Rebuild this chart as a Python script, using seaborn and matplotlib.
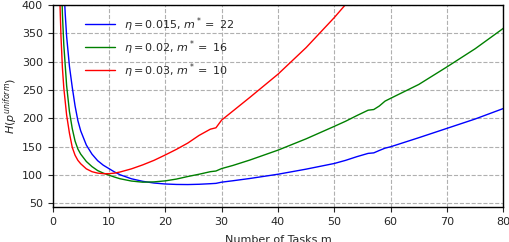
import numpy as np
import pandas as pd
import matplotlib
matplotlib.use("Agg")
import matplotlib.pyplot as plt
import seaborn as sns

# ==========================================
# DATA
# ==========================================
m_blue = [2.0, 2.25, 2.5, 3, 3.5, 4, 4.5, 5, 6, 7, 8, 9, 10, 11, 12, 14, 16, 18, 20,
          22, 24, 26, 28, 29, 30, 32, 35, 40, 45, 50, 52, 54, 56, 57, 58, 59, 60,
          65, 70, 75, 80]
h_blue = [435, 385, 345, 292, 255, 222, 196, 178, 153, 137, 125.5, 117.5, 111.5,
          105.5, 100.5, 93.5, 89, 86, 84.3, 83.5, 83.3, 83.8, 84.8, 85.4, 87.5, 90,
          94, 101.5, 110.5, 120.5, 126, 132.5, 138.3, 139.2, 143.5, 147.5, 150,
          166, 182.5, 199, 217.5]

m_green = [1.5, 1.75, 2, 2.5, 3, 3.5, 4, 4.5, 5, 6, 7, 8, 9, 10, 11, 12, 14, 16, 18,
           20, 22, 24, 26, 28, 29, 30, 32, 35, 40, 45, 50, 52, 54, 56, 57, 58, 59,
           60, 65, 70, 75, 80]
h_green = [480, 385, 330, 258, 212, 182, 160, 146, 137, 124, 115, 108, 103.5, 100,
           96.5, 93.5, 89.5, 87.5, 88, 89.8, 93, 97.5, 101.5, 106, 107.2, 111.5, 117,
           126.5, 144, 164, 186, 195, 205, 214.5, 215.7, 222, 230.5, 235.5, 260,
           291, 323, 359]

m_red = [1.25, 1.5, 1.75, 2, 2.5, 3, 3.5, 4, 4.5, 5, 6, 7, 8, 9, 10, 11, 12, 14, 16,
         18, 20, 22, 24, 26, 28, 29, 30, 32, 35, 40, 45, 50, 52, 54]
h_red = [425, 345, 290, 254, 206, 174, 149, 135, 126, 120, 111, 106, 103.5, 102.5,
         102.5, 103.5, 105.5, 111, 118, 126, 135.5, 145.5, 156.5, 170, 181, 183.5,
         197, 213, 237, 278, 325, 378, 401, 425]

labels = [r'$\eta=0.015$, $m^*=$ 22', r'$\eta=0.02$, $m^*=$ 16', r'$\eta=0.03$, $m^*=$ 10']
colors = ['blue', 'green', 'red']

df = pd.concat([
    pd.DataFrame({'m': m_blue, 'H': h_blue, 'series': labels[0]}),
    pd.DataFrame({'m': m_green, 'H': h_green, 'series': labels[1]}),
    pd.DataFrame({'m': m_red, 'H': h_red, 'series': labels[2]}),
], ignore_index=True)

# ==========================================
# PLOT
# ==========================================
sns.set_style("white")
plt.rcParams['font.family'] = ['DejaVu Sans']

fig = plt.figure(figsize=(5.1, 2.42), dpi=100)
ax = fig.add_axes([0.103, 0.143, 0.884, 0.836])

sns.lineplot(data=df, x='m', y='H', hue='series', hue_order=labels,
             palette=colors, estimator=None, sort=True, linewidth=1, ax=ax)

ax.set_xlim(0, 80)
ax.set_ylim(43, 400)
ax.set_xticks(np.arange(0, 81, 10))
ax.set_yticks(np.arange(50, 401, 50))
ax.tick_params(labelsize=8, direction='out', length=3.5, width=0.8, left=True, bottom=True)
ax.grid(True, linestyle='--', color='#b0b0b0', linewidth=0.8)
for s in ax.spines.values():
    s.set_color('black')
    s.set_linewidth(1.0)

# the reference figure crops the x label at the bottom edge
ax.set_xlabel('Number of Tasks m', fontsize=8, labelpad=6)
ax.set_ylabel(r'$H(p^{uniform})$', fontsize=8, labelpad=1)

ax.legend(loc='upper left', bbox_to_anchor=(0.05, 1.0), frameon=False,
          fontsize=8, labelspacing=0.4, handlelength=2.7, borderaxespad=0.5)

fig.savefig('out.png', dpi=100)
